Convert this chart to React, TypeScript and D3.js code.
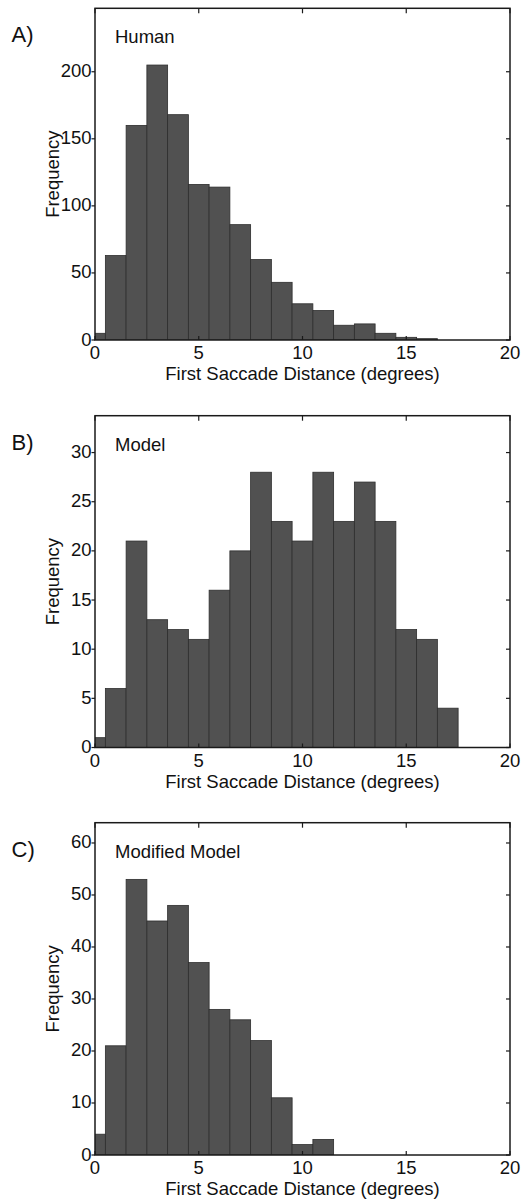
import React from "react";
import * as d3 from "d3";

// bin centres 0..20 (deg), bins are 1 deg wide
const binCenters = d3.range(0, 21);

const humanCounts = [5, 63, 160, 205, 168, 116, 114, 86, 60, 43, 27, 22, 11, 12, 5, 2, 1, 0, 0, 0, 0];
const modelCounts = [1, 6, 21, 13, 12, 11, 16, 20, 28, 23, 21, 28, 23, 27, 23, 12, 11, 4, 0, 0, 0];
const modifiedCounts = [4, 21, 53, 45, 48, 37, 28, 26, 22, 11, 2, 3, 0, 0, 0, 0, 0, 0, 0, 0, 0];

const xTicks = [0, 5, 10, 15, 20];
const humanTicks = [0, 50, 100, 150, 200];
const modelTicks = [0, 5, 10, 15, 20, 25, 30];
const modifiedTicks = [0, 10, 20, 30, 40, 50, 60];

const panels = [
  { letter: "A)", title: "Human", counts: humanCounts, yTicks: humanTicks, yMax: 247.3, top: 8.3, bottom: 340 },
  { letter: "B)", title: "Model", counts: modelCounts, yTicks: modelTicks, yMax: 33.75, top: 415.7, bottom: 747.5 },
  { letter: "C)", title: "Modified Model", counts: modifiedCounts, yTicks: modifiedTicks, yMax: 63.9, top: 822.7, bottom: 1155 },
];

const left = 95;
const right = 510;
const font = "'Liberation Sans', Arial, Helvetica, sans-serif";
const fs = 18.5;

function Panel({ p, idx }: { p: (typeof panels)[number]; idx: number }) {
  const x = d3.scaleLinear().domain([0, 20]).range([left, right]);
  const y = d3.scaleLinear().domain([0, p.yMax]).range([p.bottom, p.top]);
  const clipId = "clip" + idx;
  return (
    <g>
      <defs>
        <clipPath id={clipId}>
          <rect x={left} y={p.top} width={right - left} height={p.bottom - p.top} />
        </clipPath>
      </defs>
      <g clipPath={`url(#${clipId})`}>
        {binCenters.map((c, i) =>
          p.counts[i] > 0 ? (
            <rect
              key={i}
              x={x(c - 0.5)}
              y={y(p.counts[i])}
              width={x(c + 0.5) - x(c - 0.5)}
              height={y(0) - y(p.counts[i])}
              fill="#515151"
              stroke="#2e2e2e"
              strokeWidth={0.8}
            />
          ) : null
        )}
      </g>
      {/* frame */}
      <rect x={left} y={p.top} width={right - left} height={p.bottom - p.top} fill="none" stroke="#1a1a1a" strokeWidth={1.5} />
      {/* x ticks */}
      {xTicks.map((t) => (
        <g key={"x" + t}>
          <line x1={x(t)} x2={x(t)} y1={p.top} y2={p.top + 5} stroke="#1a1a1a" strokeWidth={1.2} />
          <line x1={x(t)} x2={x(t)} y1={p.bottom} y2={p.bottom - 4} stroke="#1a1a1a" strokeWidth={1.2} />
          <text x={x(t)} y={p.bottom + 19} textAnchor="middle" fontFamily={font} fontSize={fs} fill="#111">
            {t}
          </text>
        </g>
      ))}
      {/* y ticks */}
      {p.yTicks.map((t) => (
        <g key={"y" + t}>
          <line x1={left - 3.5} x2={left} y1={y(t)} y2={y(t)} stroke="#1a1a1a" strokeWidth={1.2} />
          <line x1={right} x2={right - 4} y1={y(t)} y2={y(t)} stroke="#1a1a1a" strokeWidth={1.2} />
          <text x={left - 3.5} y={y(t) - 1} textAnchor="end" dominantBaseline="central" fontFamily={font} fontSize={fs} fill="#111">
            {t}
          </text>
        </g>
      ))}
      <text x={(left + right) / 2} y={p.bottom + 40} textAnchor="middle" fontFamily={font} fontSize={fs} fill="#111">
        First Saccade Distance (degrees)
      </text>
      <text
        transform={`translate(58.5,${(p.top + p.bottom) / 2}) rotate(-90)`}
        textAnchor="middle"
        fontFamily={font}
        fontSize={fs}
        fill="#111"
      >
        Frequency
      </text>
      <text x={115} y={p.top + 35} fontFamily={font} fontSize={fs} fill="#111">
        {p.title}
      </text>
      <text x={11.5} y={p.top + 34} fontFamily={font} fontSize={22} fill="#111">
        {p.letter}
      </text>
    </g>
  );
}

export default function App() {
  return (
    <svg width={530} height={1199} style={{ position: "absolute", left: 0, top: 0, background: "#fff" }}>
      {panels.map((p, i) => (
        <Panel key={p.letter} p={p} idx={i} />
      ))}
    </svg>
  );
}
